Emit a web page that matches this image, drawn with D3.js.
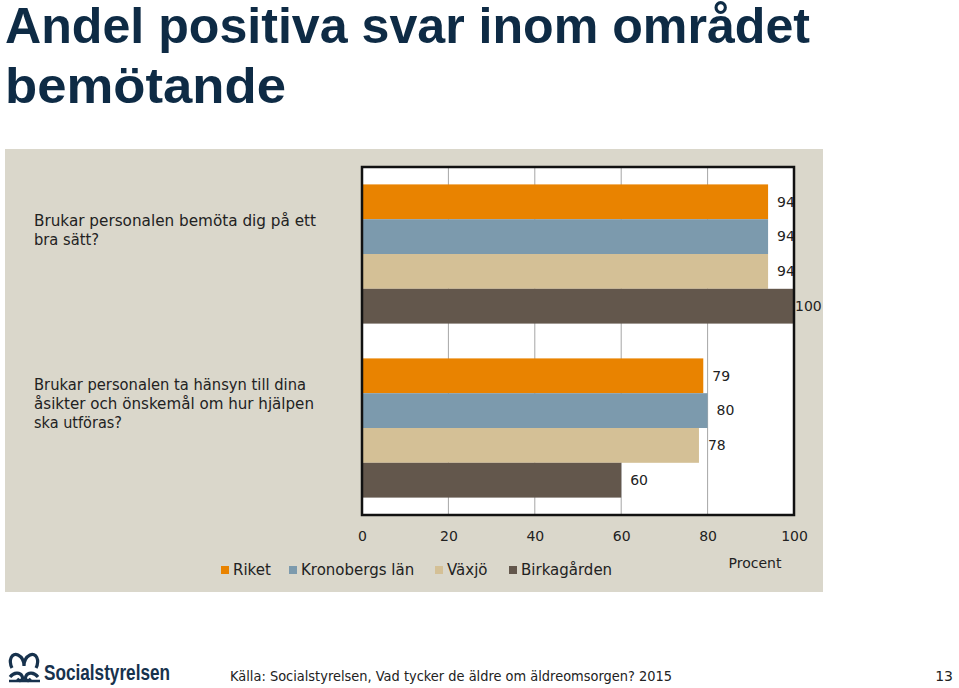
<!DOCTYPE html>
<html><head><meta charset="utf-8">
<script src="https://cdn.jsdelivr.net/npm/d3@7"></script>
<style>
html,body{margin:0;padding:0;background:#fff;}
svg{display:block;}
</style></head>
<body>
<svg id="chart" width="959" height="688"></svg>
<script>
// ---- data ----
const titleLines = ["Andel positiva svar inom området", "bemötande"];
const categories = ["Brukar personalen bemöta dig på ett bra sätt?",
                    "Brukar personalen ta hänsyn till dina åsikter och önskemål om hur hjälpen ska utföras?"];
const categoryLines = [["Brukar personalen bemöta dig på ett", "bra sätt?"],
                       ["Brukar personalen ta hänsyn till dina", "åsikter och önskemål om hur hjälpen", "ska utföras?"]];
const seriesNames = ["Riket", "Kronobergs län", "Växjö", "Birkagården"];
const riket = [94, 79];
const kronoberg = [94, 80];
const vaxjo = [94, 78];
const birkagarden = [100, 60];
const xTicks = [0, 20, 40, 60, 80, 100];
const axisTitle = "Procent";
const sourceText = "Källa: Socialstyrelsen, Vad tycker de äldre om äldreomsorgen? 2015";
const pageNumber = "13";
const colors = ["#E98300", "#7C9AAD", "#D4C096", "#63574C"];

const seriesValues = [riket, kronoberg, vaxjo, birkagarden];

// ---- layout ----
const svg = d3.select("#chart");
const font = "'DejaVu Sans', sans-serif";
const plot = {left: 362, right: 794, top: 167, bottom: 515};

function fit(sel, w) {
  sel.each(function(){
    const t = this.getComputedTextLength();
    if (w && t > 0) d3.select(this).attr("textLength", w).attr("lengthAdjust", "spacingAndGlyphs");
  });
  return sel;
}

// title
const titleW = [805, 281];
svg.selectAll("text.title").data(titleLines).join("text")
  .attr("class", "title")
  .attr("x", 5).attr("y", (d, i) => 43 + i * 60)
  .attr("font-family", "'Liberation Sans', Arial, sans-serif")
  .attr("font-weight", "bold").attr("font-size", 50)
  .attr("fill", "#0E2B45")
  .text(d => d)
  .each(function(d, i){ fit(d3.select(this), titleW[i]); });

// background panel
svg.append("rect").attr("x", 5).attr("y", 149).attr("width", 818).attr("height", 443).attr("fill", "#DAD7CB");

// scales
const x = d3.scaleLinear().domain([0, 100]).range([plot.left, plot.right]);
const y0 = d3.scaleBand().domain(categories).range([plot.top, plot.bottom]).paddingInner(0.2).paddingOuter(0.1);
const y1 = d3.scaleBand().domain(seriesNames).range([0, y0.bandwidth()]);

// plot area
svg.append("rect").attr("x", plot.left).attr("y", plot.top)
  .attr("width", plot.right - plot.left).attr("height", plot.bottom - plot.top).attr("fill", "#fff");

// gridlines
svg.append("g").selectAll("line").data(xTicks.filter(t => t > 0 && t < 100)).join("line")
  .attr("x1", d => x(d)).attr("x2", d => x(d))
  .attr("y1", plot.top).attr("y2", plot.bottom)
  .attr("stroke", "#A6A6A6").attr("stroke-width", 1);

// bars
const groups = svg.append("g").selectAll("g").data(categories).join("g")
  .attr("transform", d => `translate(0,${y0(d)})`);
groups.selectAll("rect").data((c, ci) => seriesNames.map((s, si) => ({s, si, v: seriesValues[si][ci]}))).join("rect")
  .attr("x", x(0)).attr("y", d => y1(d.s))
  .attr("width", d => x(d.v) - x(0)).attr("height", y1.bandwidth())
  .attr("fill", d => colors[d.si]);

// value labels
groups.selectAll("text").data((c, ci) => seriesNames.map((s, si) => ({s, si, v: seriesValues[si][ci]}))).join("text")
  .attr("x", d => Math.min(x(d.v) + 9, x(100) + 1))
  .attr("y", d => y1(d.s) + y1.bandwidth() / 2)
  .attr("dy", "0.35em")
  .attr("font-family", font).attr("font-size", 14).attr("fill", "#222")
  .text(d => d.v);

// frame
svg.append("rect").attr("x", plot.left).attr("y", plot.top)
  .attr("width", plot.right - plot.left).attr("height", plot.bottom - plot.top)
  .attr("fill", "none").attr("stroke", "#111").attr("stroke-width", 2.5);

// category labels
const catW = [[282, 65], [272, 280, 88]];
categoryLines.forEach((lines, ci) => {
  const cy = y0(categories[ci]) + y0.bandwidth() / 2 - 24;
  const lh = 19;
  const start = cy - (lines.length - 1) * lh / 2;
  lines.forEach((ln, li) => {
    const t = svg.append("text").attr("x", 34).attr("y", start + li * lh).attr("dy", "0.35em")
      .attr("font-family", font).attr("font-size", 15).attr("fill", "#222").text(ln);
    fit(t, catW[ci][li]);
  });
});

// x axis
const xAxis = d3.axisBottom(x).tickValues(xTicks).tickSize(0).tickPadding(0);
const ax = svg.append("g").attr("transform", `translate(0,${plot.bottom})`).call(xAxis);
ax.select(".domain").remove();
ax.selectAll("text").attr("y", 21).attr("dy", "0.35em")
  .attr("font-family", font).attr("font-size", 14).attr("fill", "#222");

svg.append("text").attr("x", 755).attr("y", 563).attr("dy", "0.35em").attr("text-anchor", "middle")
  .attr("font-family", font).attr("font-size", 14).attr("fill", "#222").text(axisTitle);

// legend
const legendX = [221, 289, 435, 509];
const lg = svg.append("g").selectAll("g").data(seriesNames).join("g")
  .attr("transform", (d, i) => `translate(${legendX[i]},570)`);
lg.append("rect").attr("x", 0).attr("y", -4).attr("width", 8).attr("height", 8).attr("fill", (d, i) => colors[i]);
lg.append("text").attr("x", 12).attr("y", 0).attr("dy", "0.35em")
  .attr("font-family", font).attr("font-size", 15).attr("fill", "#222").text(d => d);

// footer
const logo = svg.append("g").attr("fill", "none").attr("stroke", "#17324D").attr("stroke-width", 3.2);
logo.append("path").attr("d", "M12,668 C8,660 12,652 18,655 C22,657 24,661 24,666 C24,661 26,657 30,655 C36,652 40,660 36,668");
logo.append("path").attr("d", "M10,677 C14,672 20,672 22,676 C24,680 20,682 17,679");
logo.append("path").attr("d", "M38,677 C34,672 28,672 26,676 C24,680 28,682 31,679");
logo.append("path").attr("d", "M9,681 L40,681").attr("stroke-width", 2.5);
svg.append("text").attr("x", 44).attr("y", 680).attr("font-family", "'Liberation Sans', Arial, sans-serif")
  .attr("font-weight", "bold").attr("font-size", 22).attr("fill", "#17324D").text("Socialstyrelsen")
  .call(s => fit(s, 126));

svg.append("text").attr("x", 230).attr("y", 681)
  .attr("font-family", font).attr("font-size", 14).attr("fill", "#222").text(sourceText)
  .call(s => fit(s, 442));
svg.append("text").attr("x", 953).attr("y", 681).attr("text-anchor", "end")
  .attr("font-family", font).attr("font-size", 14).attr("fill", "#222").text(pageNumber);
</script>
</body></html>
